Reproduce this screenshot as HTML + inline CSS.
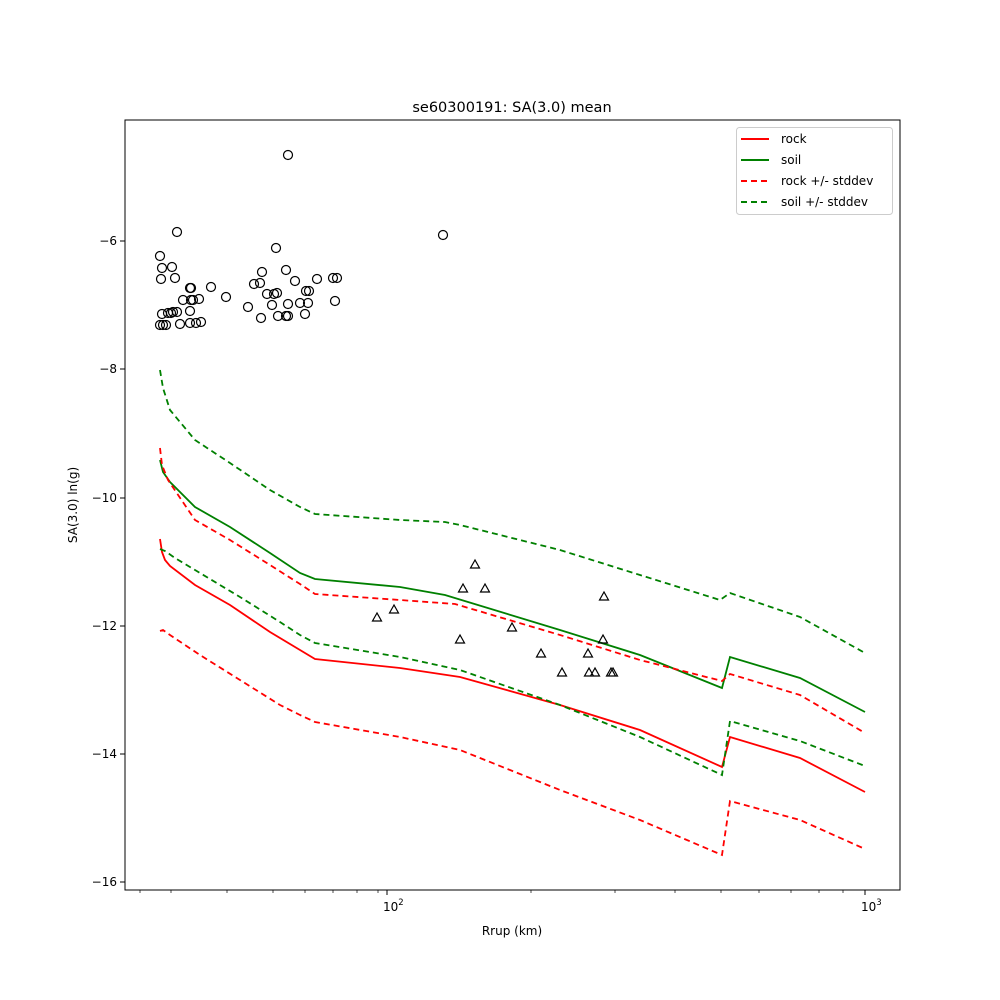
<!DOCTYPE html>
<html><head><style>body{margin:0;background:#fff}svg{display:block;font-family:"DejaVu Sans","Liberation Sans",sans-serif}</style></head>
<body>
<svg width="1000" height="1000" viewBox="0 0 1000 1000" xmlns="http://www.w3.org/2000/svg">
<rect width="1000" height="1000" fill="#fff"/>
<text x="512" y="112" font-size="14.5" text-anchor="middle">se60300191: SA(3.0) mean</text>
<g fill="none" stroke-width="1.8">
<polyline stroke="#f00" points="160,539 162,552 165,560 170,566 195,585 230,605 270,632 300,650 315,659 400,668 460,677 560,705 640,730 722,767 730,737 800,758 865,792"/>
<polyline stroke="#008000" points="160,460 163,472 170,482 195,507 230,527 270,553 300,573 315,579 400,587 445,595 560,630 640,655 722,688 730,657 800,678 865,712"/>
<g stroke-dasharray="6,4">
<polyline stroke="#f00" points="160,448 162,465 168,480 195,520 230,540 270,565 300,584 315,594 400,600 455,604 560,635 640,660 722,681 730,674 800,695 865,733"/>
<polyline stroke="#f00" points="160,631 163,630 170,635 200,655 240,680 280,705 300,715 315,722 400,737 460,750 560,790 640,820 722,855 730,801 800,820 865,849"/>
<polyline stroke="#008000" points="160,370 163,388 170,410 195,440 230,463 270,490 300,507 315,514 400,520 445,522 460,525 560,550 640,575 720,600 730,593 800,617 865,653"/>
<polyline stroke="#008000" points="160,549 165,551 175,558 200,573 240,597 280,622 300,635 315,643 400,657 460,670 560,705 640,737 722,775 730,721 800,741 865,766"/>
</g>
</g>
<g fill="none" stroke="#000" stroke-width="1.2">
<circle cx="160" cy="256" r="4.5"/><circle cx="162" cy="268" r="4.5"/><circle cx="161" cy="279" r="4.5"/><circle cx="177" cy="232" r="4.5"/><circle cx="172" cy="267" r="4.5"/><circle cx="175" cy="278" r="4.5"/><circle cx="162" cy="314" r="4.5"/><circle cx="160" cy="325" r="4.5"/><circle cx="163" cy="325" r="4.5"/><circle cx="166" cy="325" r="4.5"/><circle cx="168" cy="313" r="4.5"/><circle cx="171" cy="313" r="4.5"/><circle cx="173" cy="312" r="4.5"/><circle cx="177" cy="312" r="4.5"/><circle cx="180" cy="324" r="4.5"/><circle cx="183" cy="300" r="4.5"/><circle cx="190" cy="288" r="4.5"/><circle cx="191" cy="288" r="4.5"/><circle cx="190" cy="311" r="4.5"/><circle cx="190" cy="323" r="4.5"/><circle cx="191" cy="300" r="4.5"/><circle cx="193" cy="300" r="4.5"/><circle cx="196" cy="323" r="4.5"/><circle cx="199" cy="299" r="4.5"/><circle cx="201" cy="322" r="4.5"/><circle cx="211" cy="287" r="4.5"/><circle cx="226" cy="297" r="4.5"/><circle cx="248" cy="307" r="4.5"/><circle cx="254" cy="284" r="4.5"/><circle cx="260" cy="283" r="4.5"/><circle cx="262" cy="272" r="4.5"/><circle cx="261" cy="318" r="4.5"/><circle cx="267" cy="294" r="4.5"/><circle cx="272" cy="305" r="4.5"/><circle cx="274" cy="294" r="4.5"/><circle cx="277" cy="293" r="4.5"/><circle cx="276" cy="248" r="4.5"/><circle cx="278" cy="316" r="4.5"/><circle cx="286" cy="316" r="4.5"/><circle cx="288" cy="316" r="4.5"/><circle cx="286" cy="270" r="4.5"/><circle cx="288" cy="304" r="4.5"/><circle cx="288" cy="155" r="4.5"/><circle cx="295" cy="281" r="4.5"/><circle cx="300" cy="303" r="4.5"/><circle cx="306" cy="291" r="4.5"/><circle cx="309" cy="291" r="4.5"/><circle cx="305" cy="314" r="4.5"/><circle cx="308" cy="303" r="4.5"/><circle cx="317" cy="279" r="4.5"/><circle cx="333" cy="278" r="4.5"/><circle cx="337" cy="278" r="4.5"/><circle cx="335" cy="301" r="4.5"/><circle cx="443" cy="235" r="4.5"/>
</g>
<g fill="none" stroke="#000" stroke-width="1.2">
<path d="M377,613 l-4.5,8 h9z M394,605 l-4.5,8 h9z M475,560 l-4.5,8 h9z M463,584 l-4.5,8 h9z M485,584 l-4.5,8 h9z M460,635 l-4.5,8 h9z M512,623 l-4.5,8 h9z M541,649 l-4.5,8 h9z M562,668 l-4.5,8 h9z M588,649 l-4.5,8 h9z M589,668 l-4.5,8 h9z M595,668 l-4.5,8 h9z M604,592 l-4.5,8 h9z M603,635 l-4.5,8 h9z M611,668 l-4.5,8 h9z M613,668 l-4.5,8 h9z"/>
</g>
<rect x="125" y="120" width="775" height="770" fill="none" stroke="#000" stroke-width="1"/>
<g stroke="#000" stroke-width="1">
<line x1="387" y1="890" x2="387" y2="895"/><line x1="865" y1="890" x2="865" y2="895"/>
<g stroke-width="0.7">
<line x1="140" y1="890" x2="140" y2="893"/><line x1="171" y1="890" x2="171" y2="893"/><line x1="227" y1="890" x2="227" y2="893"/><line x1="273" y1="890" x2="273" y2="893"/><line x1="305" y1="890" x2="305" y2="893"/><line x1="333" y1="890" x2="333" y2="893"/><line x1="357" y1="890" x2="357" y2="893"/><line x1="378" y1="890" x2="378" y2="893"/>
<line x1="531" y1="890" x2="531" y2="893"/><line x1="615" y1="890" x2="615" y2="893"/><line x1="675" y1="890" x2="675" y2="893"/><line x1="721" y1="890" x2="721" y2="893"/><line x1="759" y1="890" x2="759" y2="893"/><line x1="791" y1="890" x2="791" y2="893"/><line x1="819" y1="890" x2="819" y2="893"/><line x1="843" y1="890" x2="843" y2="893"/>
</g>
<line x1="120" y1="882" x2="125" y2="882"/><line x1="120" y1="754" x2="125" y2="754"/><line x1="120" y1="626" x2="125" y2="626"/><line x1="120" y1="498" x2="125" y2="498"/><line x1="120" y1="369" x2="125" y2="369"/><line x1="120" y1="241" x2="125" y2="241"/>
</g>
<g font-size="12" text-anchor="end">
<text x="117" y="886">−16</text><text x="117" y="758">−14</text><text x="117" y="630">−12</text><text x="117" y="502">−10</text><text x="117" y="373">−8</text><text x="117" y="245">−6</text>
</g>
<text x="383" y="911" font-size="12">10<tspan font-size="8.5" dy="-6">2</tspan></text>
<text x="861" y="911" font-size="12">10<tspan font-size="8.5" dy="-6">3</tspan></text>
<text x="512" y="935" font-size="12" text-anchor="middle">Rrup (km)</text>
<text transform="translate(77,505) rotate(-90)" font-size="12" text-anchor="middle">SA(3.0) ln(g)</text>
<rect x="736.5" y="127.5" width="156" height="87" rx="3" fill="#fff" stroke="#ccc"/>
<g stroke-width="2">
<line x1="741" y1="139" x2="769" y2="139" stroke="#f00"/>
<line x1="741" y1="160" x2="769" y2="160" stroke="#008000"/>
<line x1="741" y1="181" x2="769" y2="181" stroke="#f00" stroke-dasharray="6,4"/>
<line x1="741" y1="202" x2="769" y2="202" stroke="#008000" stroke-dasharray="6,4"/>
</g>
<g font-size="12">
<text x="781" y="143">rock</text><text x="781" y="164">soil</text><text x="781" y="185">rock +/- stddev</text><text x="781" y="206">soil +/- stddev</text>
</g>
</svg>
</body></html>
